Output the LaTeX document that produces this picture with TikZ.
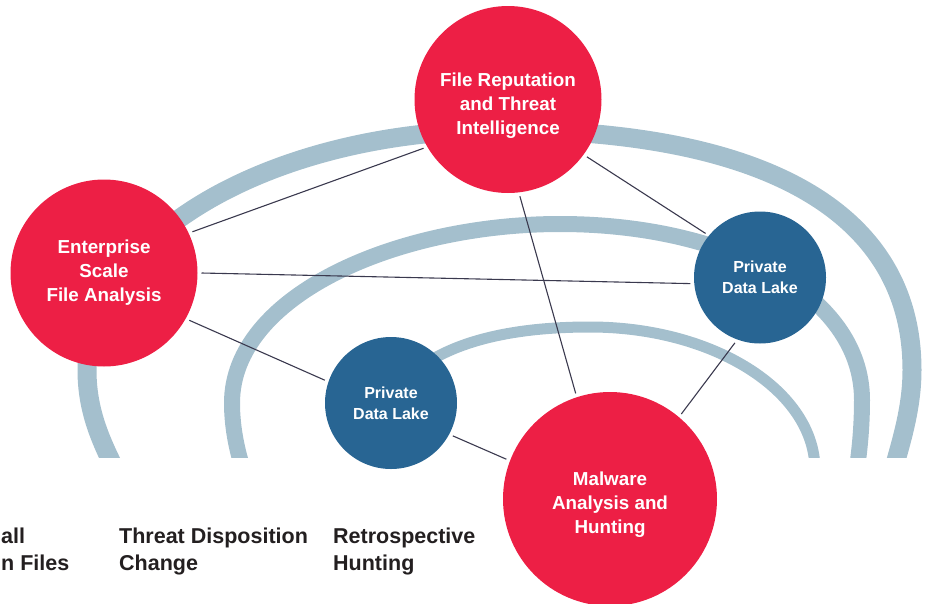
\documentclass[tikz,border=0pt]{standalone}
\usepackage{fontspec}
\setmainfont{Liberation Sans}
\definecolor{hubred}{RGB}{237,31,69}
\definecolor{lakeblue}{RGB}{40,101,147}
\definecolor{ringblue}{RGB}{164,191,205}
\definecolor{linkgray}{RGB}{58,57,78}
\definecolor{captiondark}{RGB}{35,31,32}
\newcommand{\dropline}[1]{\rule{0pt}{#1}}
\begin{document}
\begin{tikzpicture}[x=1pt,y=-1pt,
  ring/.style={draw=ringblue, line width=#1},
  hub/.style={circle, fill=hubred, text=white, minimum size=187pt, inner sep=0pt,
    outer sep=4pt, align=center, font=\fontsize{18.8}{24}\selectfont\bfseries},
  lake/.style={circle, fill=lakeblue, text=white, minimum size=132pt, inner sep=0pt,
    outer sep=4pt, align=center, font=\fontsize{16}{21}\selectfont\bfseries},
  link/.style={draw=linkgray, line width=1.1pt},
  caption/.style={anchor=base west, align=left, inner sep=0pt, text=captiondark,
    font=\fontsize{21.5}{27}\selectfont\bfseries}
]
\useasboundingbox (0,0) rectangle (946,603);

% three rings, cut flat along the bottom
\begin{scope}
  \clip (0,0) rectangle (946,457);
  \draw[ring=19pt] (118,475) .. controls (100,440) and (87,410) .. (87,370)
    .. controls (87,237) and (272,130) .. (500,130)
    .. controls (768,130) and (912,214) .. (912,370)
    .. controls (912,410) and (900,445) .. (892,475);
  \draw[ring=16pt] (245,475) .. controls (238,455) and (232,430) .. (232,403)
    .. controls (232,296) and (396,224) .. (560,224)
    .. controls (726,224) and (862,294) .. (862,400)
    .. controls (862,430) and (859,455) .. (856,475);
  \draw[ring=11pt] (368,475) .. controls (368,380) and (440,327) .. (590,327)
    .. controls (714,327) and (815,391) .. (815,470) -- (815,480);
\end{scope}

% hubs and data lakes
\node[hub] (frep) at (508,99.5) {\dropline{26pt}File Reputation\\and Threat\\Intelligence};
\node[hub] (ent) at (104,273) {Enterprise\\Scale\\File Analysis};
\node[hub, minimum size=214pt] (mal) at (610,499) {\dropline{25pt}Malware\\Analysis and\\Hunting};
\node[lake] (lakeR) at (760,277.5) {Private\\Data Lake};
\node[lake] (lakeL) at (391,403) {Private\\Data Lake};

% connections
\draw[link] (ent.25) -- (frep.210);
\draw[link] (ent.0) -- (lakeR.185);
\draw[link] (ent.-29) -- (lakeL.161);
\draw[link] (frep.-36) -- (lakeR.141);
\draw[link] (frep.-83) -- (mal.108);
\draw[link] (lakeL.-28) -- (mal.159);
\draw[link] (lakeR.-111) -- (mal.50);

% captions along the bottom (anchored at the last line's baseline)
\node[caption] (scan) at (1,570) {all\\n Files};
\node[caption] (disp) at (119,570) {Threat Disposition\\Change};
\node[caption] (retro) at (333,570) {Retrospective\\Hunting};
\end{tikzpicture}
\end{document}
